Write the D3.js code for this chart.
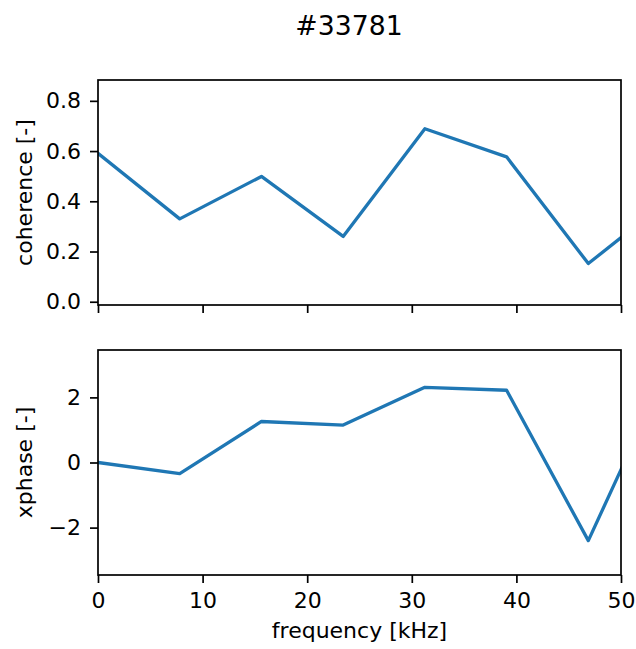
<!DOCTYPE html>
<html>
<head>
<meta charset="utf-8">
<script src="https://cdn.jsdelivr.net/npm/d3@7"></script>
<style>
  html, body { margin: 0; padding: 0; background: #fff; }
  svg { display: block; }
  text { font-family: "DejaVu Sans", sans-serif; fill: #000; }
</style>
</head>
<body>
<svg id="chart" width="636" height="649"></svg>
<script>
// ---- data ----
const title = "#33781";
const frequency = [0, 7.8125, 15.625, 23.4375, 31.25, 39.0625, 46.875, 54.6875]; // kHz
const coherence = [0.591, 0.330, 0.499, 0.260, 0.689, 0.577, 0.152, 0.41];
const xphase = [0.0, -0.34, 1.26, 1.15, 2.31, 2.22, -2.40, 3.05];
const xTicks = [0, 10, 20, 30, 40, 50];
const cohTicks = [0.0, 0.2, 0.4, 0.6, 0.8];
const phaseTicks = [-2, 0, 2];
const xDomain = [0, 50];
const cohDomain = [-0.013, 0.883];
const phaseDomain = [-1.1 * Math.PI, 1.1 * Math.PI];

// ---- layout ----
const svg = d3.select("#chart");
const L = 98, R = 621;
const panels = [
  { top: 80, bottom: 305, values: coherence, domain: cohDomain, ticks: cohTicks,
    fmt: d3.format(".1f"), label: "coherence [-]", showX: false },
  { top: 350, bottom: 575, values: xphase, domain: phaseDomain, ticks: phaseTicks,
    fmt: d => (d < 0 ? "\u2212" + Math.abs(d) : String(d)), label: "xphase [-]", showX: true }
];
const color = "#1f77b4";
const fontPx = 22;

const x = d3.scaleLinear().domain(xDomain).range([L, R]);

svg.append("text")
  .attr("x", 349).attr("y", 35)
  .attr("text-anchor", "middle")
  .style("font-size", "26.7px")
  .text(title);

panels.forEach((p, i) => {
  const y = d3.scaleLinear().domain(p.domain).range([p.bottom, p.top]);
  const clipId = "clip" + i;
  svg.append("clipPath").attr("id", clipId)
    .append("rect").attr("x", L).attr("y", p.top).attr("width", R - L).attr("height", p.bottom - p.top);

  const line = d3.line().x((d, j) => x(frequency[j])).y(d => y(d));
  svg.append("path")
    .datum(p.values)
    .attr("clip-path", `url(#${clipId})`)
    .attr("fill", "none")
    .attr("stroke", color)
    .attr("stroke-width", 3.3)
    .attr("stroke-linejoin", "round")
    .attr("stroke-linecap", "square")
    .attr("d", line);

  // y axis
  const gy = svg.append("g").attr("transform", `translate(${L},0)`)
    .call(d3.axisLeft(y).tickValues(p.ticks).tickFormat(p.fmt).tickSize(8).tickPadding(9));
  gy.select(".domain").remove();
  gy.selectAll(".tick line").attr("stroke", "#000").attr("stroke-width", 1.7);
  gy.selectAll(".tick text").style("font-size", fontPx + "px").style("font-family", "DejaVu Sans").attr("fill", "#000");

  // x axis
  const gx = svg.append("g").attr("transform", `translate(0,${p.bottom})`)
    .call(d3.axisBottom(x).tickValues(xTicks).tickFormat(p.showX ? d3.format("d") : () => "").tickSize(8).tickPadding(9));
  gx.select(".domain").remove();
  gx.selectAll(".tick line").attr("stroke", "#000").attr("stroke-width", 1.7);
  gx.selectAll(".tick text").style("font-size", fontPx + "px").style("font-family", "DejaVu Sans").attr("fill", "#000");

  // spines
  svg.append("rect")
    .attr("x", L).attr("y", p.top).attr("width", R - L).attr("height", p.bottom - p.top)
    .attr("fill", "none").attr("stroke", "#000").attr("stroke-width", 1.7);

  // y label
  svg.append("text")
    .attr("transform", `translate(32,${(p.top + p.bottom) / 2}) rotate(-90)`)
    .attr("text-anchor", "middle")
    .style("font-size", fontPx + "px")
    .text(p.label);
});

svg.append("text")
  .attr("x", (L + R) / 2).attr("y", 638)
  .attr("text-anchor", "middle")
  .style("font-size", fontPx + "px")
  .text("frequency [kHz]");
</script>
</body>
</html>
